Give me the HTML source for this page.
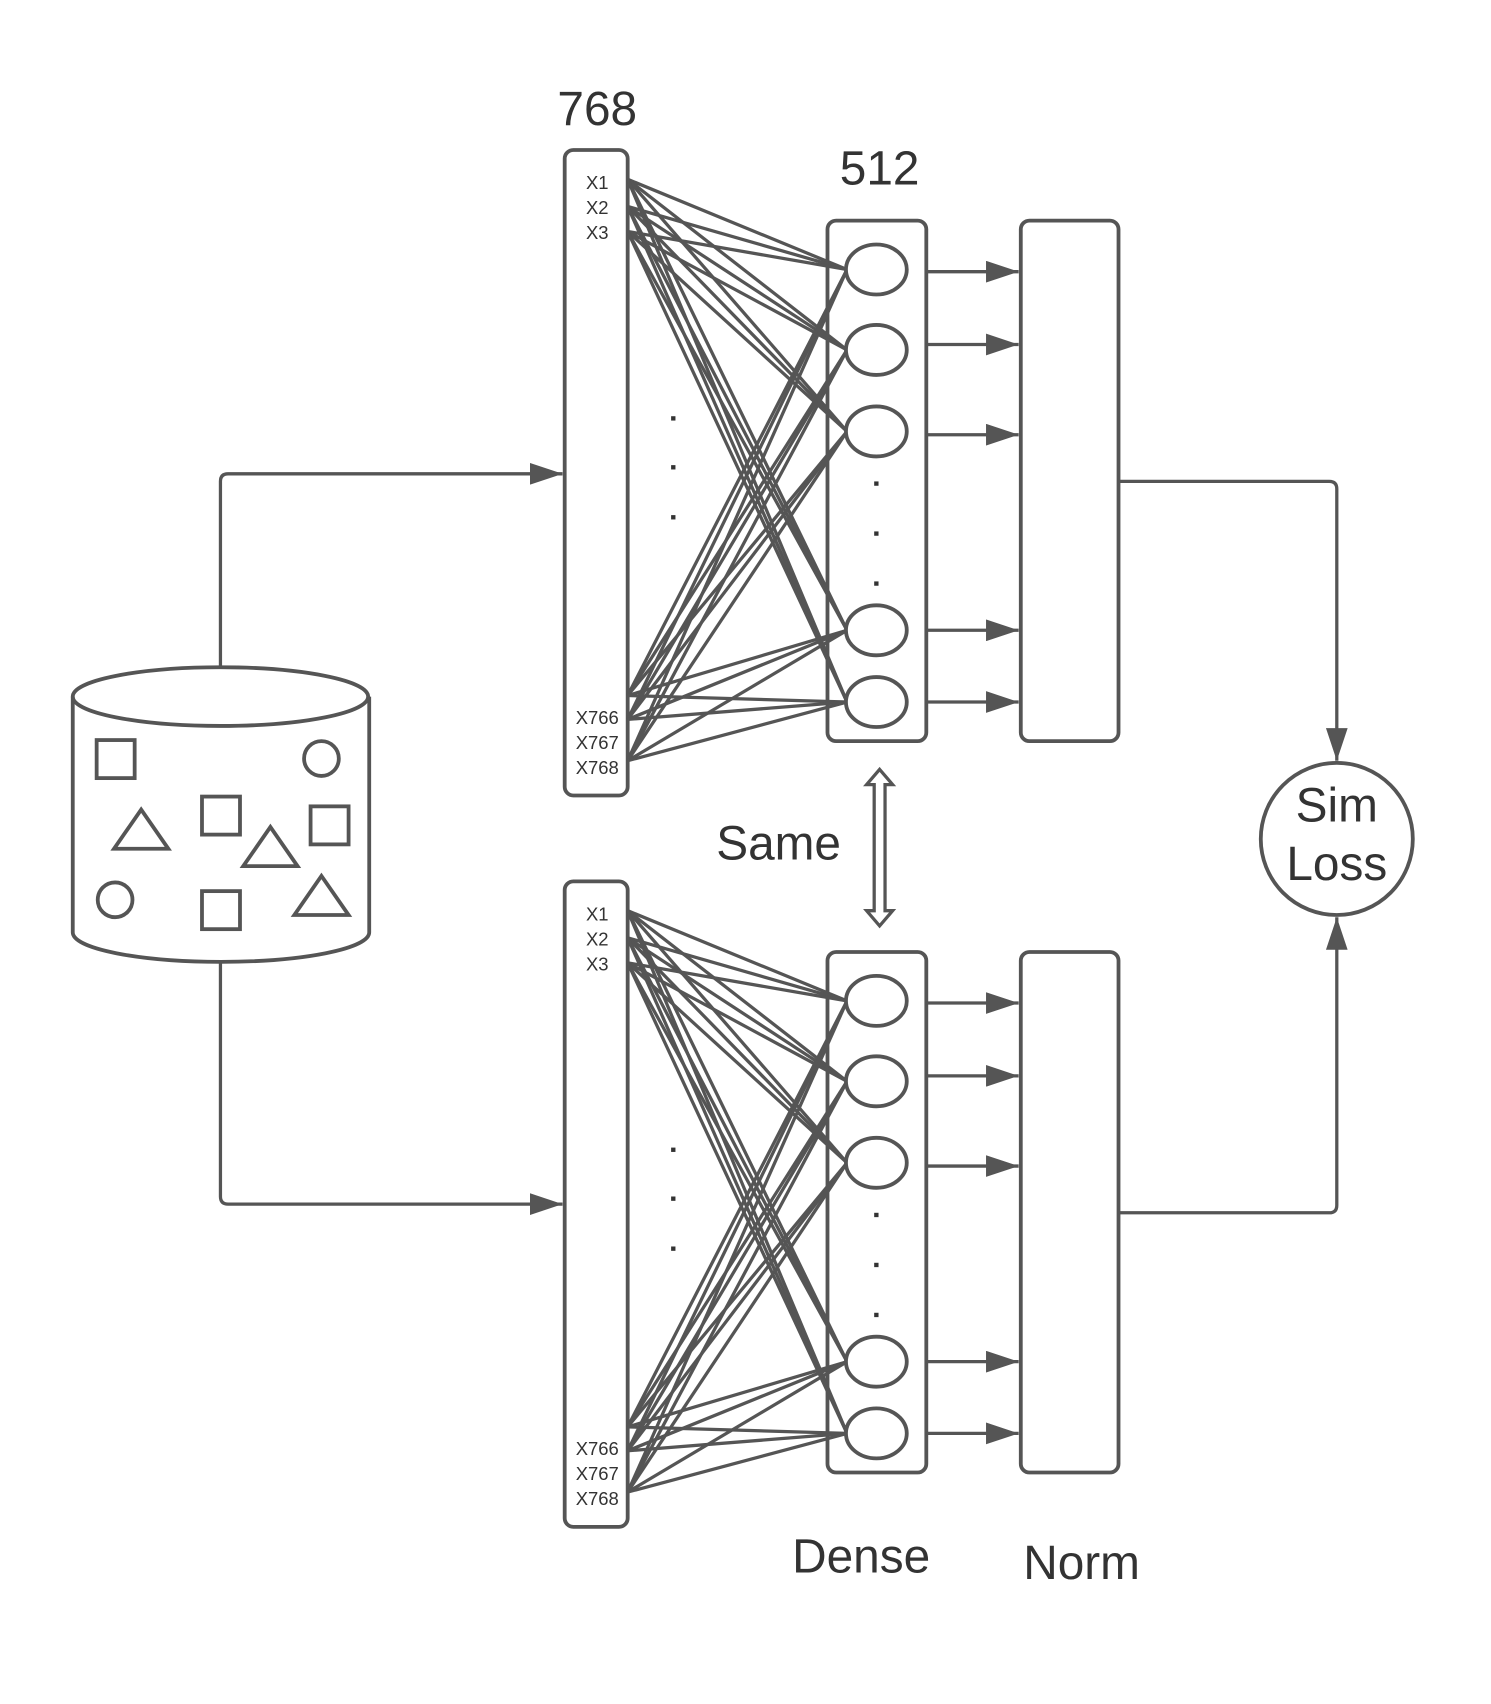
<!DOCTYPE html>
<html><head><meta charset="utf-8"><style>
html,body{margin:0;padding:0;background:#fff;}
svg{display:block;}
text{font-family:"Liberation Sans",sans-serif;fill:#333;}
</style></head><body>
<svg id="diagram" width="1491" height="1704" viewBox="0 0 1373 1568" preserveAspectRatio="none" xmlns="http://www.w3.org/2000/svg">
<defs>
<marker id="ah" viewBox="0 0 30 20" refX="30" refY="10" markerWidth="30" markerHeight="20" markerUnits="userSpaceOnUse" orient="auto"><path d="M0,0 L30,10 L0,20 z" fill="#555"/></marker>
</defs>
<rect width="1373" height="1568" fill="#fff"/>
<g fill="none" stroke="#555" stroke-width="3.5">
 <g>
  <path d="M67,641 L67,858 A136,27 0 0 0 340,858 L340,641"/>
  <ellipse cx="203" cy="641" rx="136" ry="27"/>
  <rect x="89" y="681" width="35" height="35"/>
  <circle cx="296" cy="698" r="16"/>
  <rect x="186" y="733" width="35" height="35"/>
  <rect x="286" y="742" width="35" height="35"/>
  <path d="M105,781 L130,745 L155,781 z"/>
  <path d="M224,797 L249,761 L274,797 z"/>
  <circle cx="106" cy="828" r="16"/>
  <rect x="186" y="820" width="35" height="35"/>
  <path d="M271,842 L296,806 L321,842 z"/>
 </g>
 <path d="M203,614 L203,443 Q203,436 210,436 L518,436" marker-end="url(#ah)" stroke-width="3"/>
 <path d="M203,885 L203,1101 Q203,1108 210,1108 L518,1108" marker-end="url(#ah)" stroke-width="3"/>
 <path d="M1030,443 L1224,443 Q1231,443 1231,450 L1231,700" marker-end="url(#ah)" stroke-width="3"/>
 <path d="M1030,1116 L1224,1116 Q1231,1116 1231,1109 L1231,844" marker-end="url(#ah)" stroke-width="3"/>
 <circle cx="1231" cy="772" r="70"/>
 <path d="M810,708 L822,722 L815,722 L815,838 L822,838 L810,852 L798,838 L805,838 L805,722 L798,722 z" stroke-width="3"/>
</g>
<g id="towers"></g>
<text x="550" y="115" font-size="44" text-anchor="middle">768</text>
<text x="810" y="170" font-size="44" text-anchor="middle">512</text>
<text x="717" y="791" font-size="44" text-anchor="middle">Same</text>
<text x="1231" y="756" font-size="44" text-anchor="middle">Sim</text>
<text x="1231" y="810" font-size="44" text-anchor="middle">Loss</text>
<text x="793" y="1447" font-size="44" text-anchor="middle">Dense</text>
<text x="996" y="1453" font-size="44" text-anchor="middle">Norm</text>
<script>
const NS='http://www.w3.org/2000/svg';
const towerOffsets=[0,673];
const inputLabels=['X1','X2','X3','X766','X767','X768'];
const inputLabelY=[168,191,214,660,683,706];
const inputPortY=[165,190,213,640,662,700];
const neuronY=[248,322,397,580,646];
const arrowY=[250,317,400,580,646];
const g=document.getElementById('towers');
function mk(tag,attrs,parent){const e=document.createElementNS(NS,tag);for(const k in attrs)e.setAttribute(k,attrs[k]);(parent||g).appendChild(e);return e;}
towerOffsets.forEach((o,ti)=>{
 const t=mk('g',{fill:'none',stroke:'#555','stroke-width':3.5});
 
 
 const ib=mk('rect',{x:520,y:138+o,width:58,height:594,rx:8},t);
 
 
 const db=mk('rect',{x:762,y:203+o,width:91,height:479,rx:8},t);
 
 
 const nb=mk('rect',{x:940,y:203+o,width:90,height:479,rx:8},t);
 
 
 inputPortY.forEach(py=>{neuronY.forEach(ny=>{
   const l=mk('line',{x1:578,y1:py+o,x2:780,y2:ny+o,'stroke-width':3},t);
   
   
 });});
 neuronY.forEach(ny=>{
   const c=mk('ellipse',{cx:807,cy:ny+o,rx:28,ry:23,fill:'#fff'},t);
   
   
 });
 arrowY.forEach(ay=>{
   const a=mk('line',{x1:853,y1:ay+o,x2:938,y2:ay+o,'stroke-width':3,'marker-end':'url(#ah)'},t);
   
   
 });
 [383,428,474].forEach(y=>{const d=mk('rect',{x:618,y:y+o,width:4,height:4,fill:'#333',stroke:'none'},t);
   
   });
 [443,489,535].forEach(y=>{const d=mk('rect',{x:805,y:y+o,width:4,height:4,fill:'#333',stroke:'none'},t);
   
   });
 inputLabels.forEach((s,i)=>{
   const tx=mk('text',{x:550,y:inputLabelY[i]+o+6,'font-size':17,'text-anchor':'middle',stroke:'none'},t);
   tx.textContent=s;
   
   
 });
});
</script>
</svg>
</body></html>
